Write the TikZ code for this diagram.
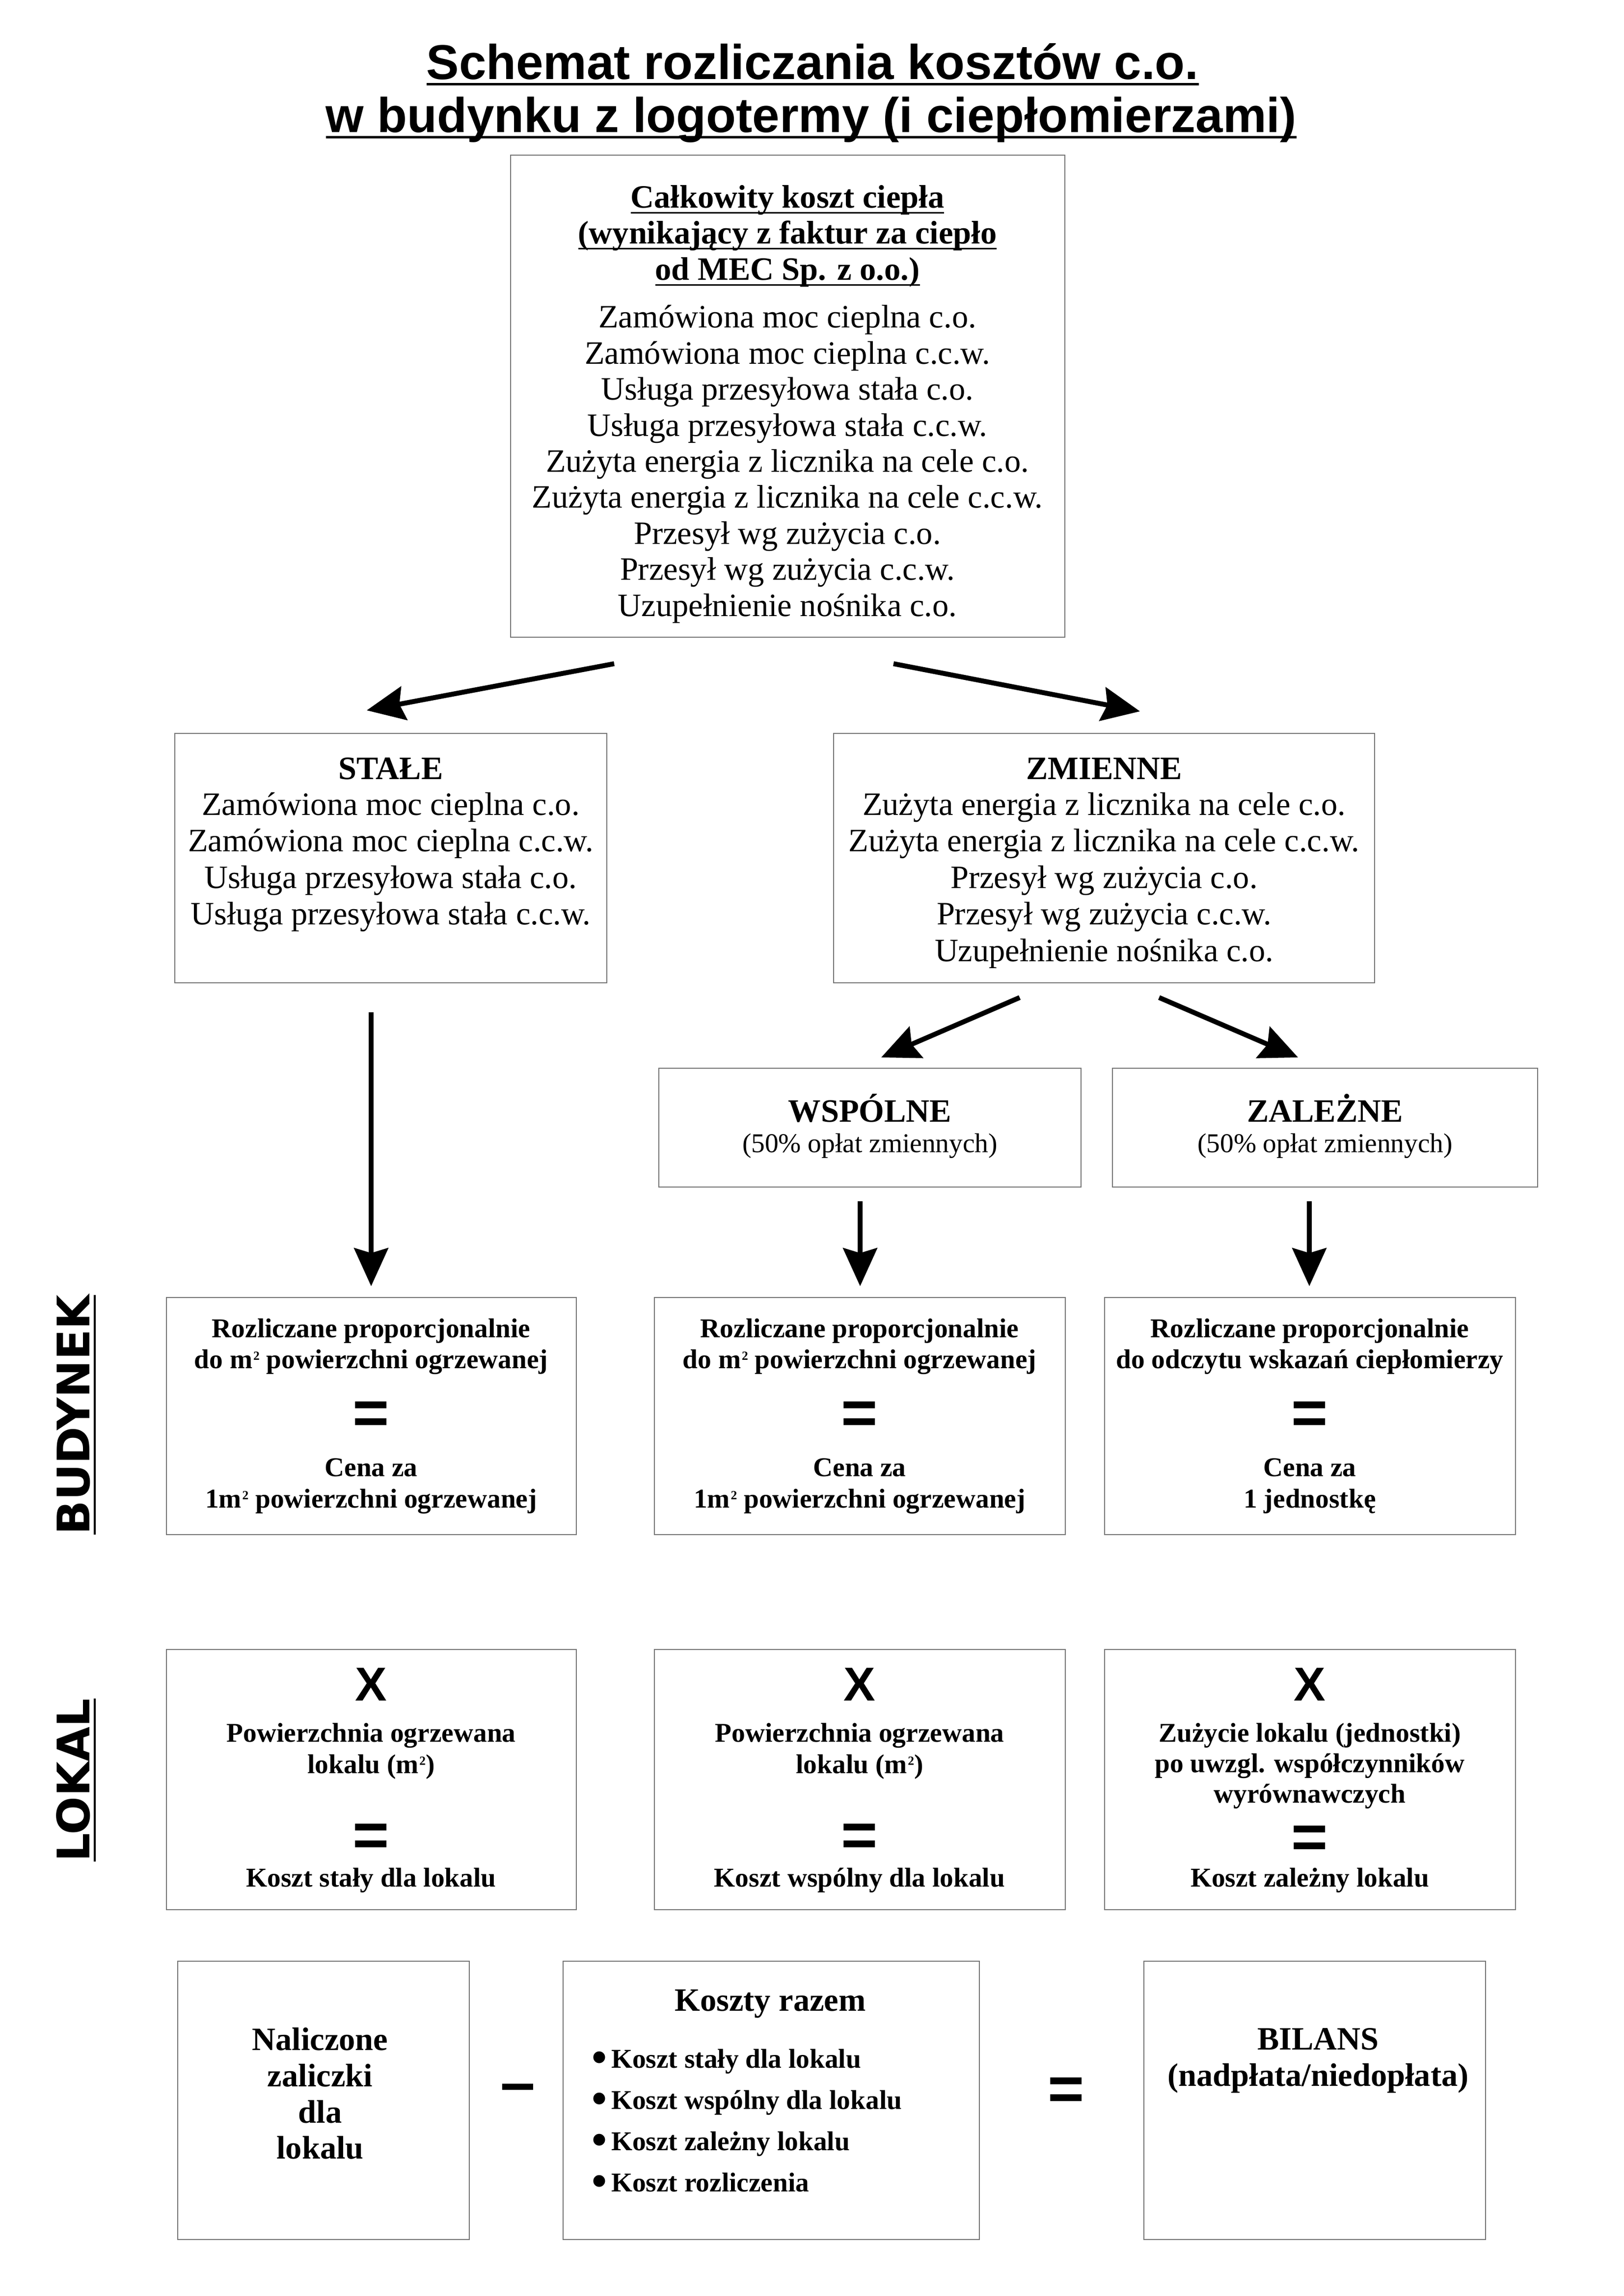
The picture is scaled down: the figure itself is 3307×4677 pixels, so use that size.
\documentclass[tikz,border=0pt]{standalone}
\usepackage{fontspec}
\setmainfont{Liberation Serif}
\newfontfamily\arialf{Liberation Sans}
\newfontfamily\dejavu{DejaVu Sans}
\usetikzlibrary{arrows.meta,fit}
\newbox\ulbox
\newcommand\myul[3]{\setbox\ulbox=\hbox{#3}\rlap{\vrule height -#1 depth \dimexpr#1+#2\relax width \wd\ulbox}\box\ulbox}
\newcommand\sq{\kern0.3pt\raisebox{2.9pt}{\fontsize{4.6}{5}\selectfont 2}}
\newcommand\bigbul{\raisebox{-1.6pt}{\fontsize{16}{16}\selectfont •}\kern1.6pt}
\begin{document}
\begin{tikzpicture}[x=0.00635cm, y=-0.00635cm,
  txt/.style={inner sep=0pt, anchor=base},
  n12/.style={txt, font=\fontsize{12}{14}\selectfont},
  b12/.style={txt, font=\fontsize{12}{14}\selectfont\bfseries},
  b10/.style={txt, font=\fontsize{10}{12}\selectfont\bfseries},
  r10/.style={txt, font=\fontsize{10}{12}\selectfont},
  eqs/.style={inner sep=0pt, anchor=center, font=\arialf\bfseries\fontsize{23}{26}\selectfont},
  xs/.style={inner sep=0pt, anchor=center, font=\arialf\bfseries\fontsize{17.5}{19}\selectfont},
  ttl/.style={txt, font=\arialf\bfseries\fontsize{18}{21}\selectfont},
  side/.style={inner sep=0pt, anchor=base, rotate=90, font=\dejavu\bfseries\fontsize{16.5}{18}\selectfont},
  box/.style={draw=black!55, line width=0.5pt, inner sep=0pt},
  arr/.style={line width=1.8pt, -{Stealth[length=14pt, width=12.5pt, inset=1.8pt]}}]
\useasboundingbox (0,0) rectangle (3307,4677);
\fill[white] (0,0) rectangle (3307,4677);

% title
\node[ttl] (title1) at (1655,162) {\myul{1.35pt}{0.8pt}{Schemat rozliczania kosztów c.o.}};
\node[ttl] (title2) at (1652,270) {\myul{1.35pt}{0.8pt}{w budynku z logotermy (i ciepłomierzami)}};

% top box
\node[box, fit={(1040,316) (2169,1298)}] (total) {};
\node[b12] (h1) at (1604,424) {\myul{1.45pt}{0.55pt}{Całkowity koszt ciepła}};
\node[b12] (h2) at (1604,497) {\myul{1.45pt}{0.55pt}{(wynikający z faktur za ciepło}};
\node[b12] (h3) at (1604,571) {\myul{1.45pt}{0.55pt}{od MEC Sp. z o.o.)}};
\foreach \t [count=\i from 0] in {Zamówiona moc cieplna c.o.,Zamówiona moc cieplna c.c.w.,Usługa przesyłowa stała c.o.,Usługa przesyłowa stała c.c.w.,Zużyta energia z licznika na cele c.o.,Zużyta energia z licznika na cele c.c.w.,Przesył wg zużycia c.o.,Przesył wg zużycia c.c.w.,Uzupełnienie nośnika c.o.}
  \node[n12] (tl\i) at (1604,668+73.4*\i) {\t};

% stale
\node[box, fit={(356,1494) (1236,2002)}] (stale) {};
\node[b12] (staleH) at (796,1587) {STAŁE};
\foreach \t [count=\i from 0] in {Zamówiona moc cieplna c.o.,Zamówiona moc cieplna c.c.w.,Usługa przesyłowa stała c.o.,Usługa przesyłowa stała c.c.w.}
  \node[n12] (sl\i) at (796,1660+74.5*\i) {\t};

% zmienne
\node[box, fit={(1698,1494) (2800,2002)}] (zmienne) {};
\node[b12] (zmH) at (2249,1587) {ZMIENNE};
\foreach \t [count=\i from 0] in {Zużyta energia z licznika na cele c.o.,Zużyta energia z licznika na cele c.c.w.,Przesył wg zużycia c.o.,Przesył wg zużycia c.c.w.,Uzupełnienie nośnika c.o.}
  \node[n12] (zl\i) at (2249,1660+74.5*\i) {\t};

% wspolne / zalezne
\node[box, fit={(1342,2176) (2202,2418)}] (wsp) {};
\node[b12] (wspH) at (1772,2285) {WSPÓLNE};
\node[r10] (wspS) at (1772,2347) {(50\% opłat zmiennych)};
\node[box, fit={(2266,2176) (3132,2418)}] (zal) {};
\node[b12] (zalH) at (2699,2285) {ZALEŻNE};
\node[r10] (zalS) at (2699,2347) {(50\% opłat zmiennych)};

% budynek boxes
\node[box, fit={(339,2643) (1174,3126)}] (b1) {};
\node[b10] (b1a) at (756,2724) {Rozliczane proporcjonalnie};
\node[b10] (b1b) at (756,2787) {do m\sq{} powierzchni ogrzewanej};
\node[eqs] (b1e) at (756,2888) {=};
\node[b10] (b1c) at (756,3007) {Cena za};
\node[b10] (b1d) at (756,3071) {1m\sq{} powierzchni ogrzewanej};

\node[box, fit={(1333,2643) (2170,3126)}] (b2) {};
\node[b10] (b2a) at (1751,2724) {Rozliczane proporcjonalnie};
\node[b10] (b2b) at (1751,2787) {do m\sq{} powierzchni ogrzewanej};
\node[eqs] (b2e) at (1751,2888) {=};
\node[b10] (b2c) at (1751,3007) {Cena za};
\node[b10] (b2d) at (1751,3071) {1m\sq{} powierzchni ogrzewanej};

\node[box, fit={(2250,2643) (3087,3126)}] (b3) {};
\node[b10] (b3a) at (2668,2724) {Rozliczane proporcjonalnie};
\node[b10] (b3b) at (2668,2787) {do odczytu wskazań ciepłomierzy};
\node[eqs] (b3e) at (2668,2888) {=};
\node[b10] (b3c) at (2668,3007) {Cena za};
\node[b10] (b3d) at (2668,3071) {1 jednostkę};

% lokal boxes
\node[box, fit={(339,3360) (1174,3890)}] (l1) {};
\node[xs] (l1x) at (756,3431) {X};
\node[b10] (l1a) at (756,3548) {Powierzchnia ogrzewana};
\node[b10] (l1b) at (756,3612) {lokalu (m\sq)};
\node[eqs] (l1e) at (756,3748) {=};
\node[b10] (l1c) at (756,3843) {Koszt stały dla lokalu};

\node[box, fit={(1333,3360) (2170,3890)}] (l2) {};
\node[xs] (l2x) at (1751,3431) {X};
\node[b10] (l2a) at (1751,3548) {Powierzchnia ogrzewana};
\node[b10] (l2b) at (1751,3612) {lokalu (m\sq)};
\node[eqs] (l2e) at (1751,3748) {=};
\node[b10] (l2c) at (1751,3843) {Koszt wspólny dla lokalu};

\node[box, fit={(2250,3360) (3087,3890)}] (l3) {};
\node[xs] (l3x) at (2668,3431) {X};
\node[b10] (l3a) at (2668,3548) {Zużycie lokalu (jednostki)};
\node[b10] (l3b) at (2668,3610) {po uwzgl. współczynników};
\node[b10] (l3c) at (2668,3672) {wyrównawczych};
\node[eqs] (l3e) at (2668,3752) {=};
\node[b10] (l3d) at (2668,3843) {Koszt zależny lokalu};

% side labels
\node[side] (budynek) at (182,2882) {\myul{1.6pt}{0.72pt}{BUDYNEK}};
\node[side] (lokal) at (182,3626) {\myul{1.6pt}{0.72pt}{LOKAL}};

% bottom row
\node[box, fit={(362,3995) (956,4562)}] (zal1) {};
\node[b12] (za) at (652,4176) {Naliczone};
\node[b12] (zb) at (652,4250) {zaliczki};
\node[b12] (zc) at (652,4324) {dla};
\node[b12] (zd) at (652,4397) {lokalu};
\node[eqs] (minus) at (1055,4265) {–};
\node[box, fit={(1147,3995) (1995,4562)}] (razem) {};
\node[b12] (rH) at (1569,4096) {Koszty razem};
\foreach \t [count=\i from 0] in {Koszt stały dla lokalu,Koszt wspólny dla lokalu,Koszt zależny lokalu,Koszt rozliczenia}
  \node[b10, anchor=base west] (rt\i) at (1204,4212+84*\i) {\bigbul\t};
\node[eqs] (equal) at (2172,4265) {=};
\node[box, fit={(2330,3995) (3026,4562)}] (bilans) {};
\node[b12] (bA) at (2685,4175) {BILANS};
\node[b12] (bB) at (2685,4249) {(nadpłata/niedopłata)};

% arrows
\coordinate (a1s) at (1251,1352); \coordinate (a1e) at (747,1447);
\coordinate (a2s) at (1820,1352); \coordinate (a2e) at (2322,1449);
\coordinate (a3s) at (756,2062);  \coordinate (a3e) at (756,2620);
\coordinate (a4s) at (2077,2032); \coordinate (a4e) at (1795,2154);
\coordinate (a5s) at (2361,2032); \coordinate (a5e) at (2644,2154);
\coordinate (a6s) at (1752,2447); \coordinate (a6e) at (1752,2620);
\coordinate (a7s) at (2667,2447); \coordinate (a7e) at (2667,2620);
\draw[arr] (a1s) -- (a1e);
\draw[arr] (a2s) -- (a2e);
\draw[arr] (a3s) -- (a3e);
\draw[arr] (a4s) -- (a4e);
\draw[arr] (a5s) -- (a5e);
\draw[arr] (a6s) -- (a6e);
\draw[arr] (a7s) -- (a7e);
\end{tikzpicture}
\end{document}
